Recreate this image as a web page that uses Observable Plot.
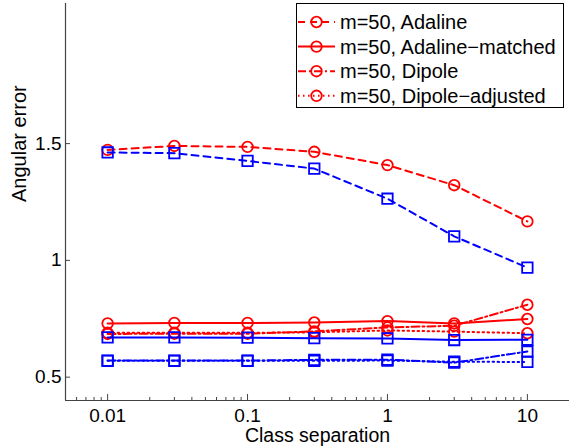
<!DOCTYPE html>
<html><head><meta charset="utf-8">
<script src="https://cdn.jsdelivr.net/npm/d3@7"></script>
<script src="https://cdn.jsdelivr.net/npm/@observablehq/plot@0.6"></script>
<style>
body{margin:0;background:#fff}
#chart{position:relative;width:569px;height:446px}
svg{font-family:"Liberation Sans",Arial,Helvetica,sans-serif}
</style>
</head><body><div id="chart"></div>
<script>
const separation = [0.01, 0.03, 0.1, 0.3, 1, 3, 10];
const redAdaline         = [1.473, 1.490, 1.486, 1.465, 1.408, 1.322, 1.167];
const redAdalineMatched  = [0.730, 0.732, 0.732, 0.734, 0.740, 0.730, 0.749];
const redDipole          = [0.685, 0.686, 0.686, 0.696, 0.713, 0.720, 0.810];
const redDipoleAdjusted  = [0.690, 0.690, 0.690, 0.692, 0.700, 0.695, 0.688];
const blueAdaline        = [1.462, 1.459, 1.426, 1.393, 1.264, 1.103, 0.969];
const blueAdalineMatched = [0.670, 0.670, 0.669, 0.667, 0.666, 0.659, 0.660];
const blueDipole         = [0.571, 0.571, 0.571, 0.574, 0.575, 0.562, 0.610];
const blueDipoleAdjusted = [0.570, 0.570, 0.570, 0.570, 0.571, 0.566, 0.565];
const legendLabels = ["m=50, Adaline", "m=50, Adaline\u2212matched", "m=50, Dipole", "m=50, Dipole\u2212adjusted"];
const xTicks = [0.01, 0.1, 1, 10];
const yTicks = [0.5, 1, 1.5];
const xLabel = "Class separation";
const yLabel = "Angular error";

const W = 569, H = 446, mL = 65, mR = 0, mT = 3, mB = 46;
const frameW = W - mL - mR, frameH = H - mT - mB;
const RED = "#ff0000", BLUE = "#0000ff";
const dashes = ["7,5", null, "8,3,2,3", "1.5,3.5"];
const FS = 19, FL = 19.5, FG = 20;

const xMinor = [];
for (let e = -3; e <= 1; e++) for (let k = 2; k <= 9; k++) {
  const v = k * Math.pow(10, e);
  if (v >= 0.005 && v <= 20) xMinor.push(v);
}

const series = [
  {color: RED, symbol: "circle", dash: dashes[0], values: redAdaline},
  {color: RED, symbol: "circle", dash: dashes[1], values: redAdalineMatched},
  {color: RED, symbol: "circle", dash: dashes[2], values: redDipole},
  {color: RED, symbol: "circle", dash: dashes[3], values: redDipoleAdjusted},
  {color: BLUE, symbol: "square", dash: dashes[0], values: blueAdaline},
  {color: BLUE, symbol: "square", dash: dashes[1], values: blueAdalineMatched},
  {color: BLUE, symbol: "square", dash: dashes[2], values: blueDipole},
  {color: BLUE, symbol: "square", dash: dashes[3], values: blueDipoleAdjusted}
];

const marks = [];
for (const s of series) {
  const rows = separation.map((x, i) => ({x, y: s.values[i]}));
  marks.push(Plot.line(rows, {x: "x", y: "y", stroke: s.color, strokeWidth: 2, strokeDasharray: s.dash}));
  marks.push(Plot.dot(rows, {x: "x", y: "y", stroke: s.color, fill: "none", strokeWidth: 1.8,
    symbol: s.symbol, r: s.symbol === "circle" ? 5.3 : 5.9}));
}

const chart = Plot.plot({
  width: W, height: H,
  marginLeft: mL, marginRight: mR, marginTop: mT, marginBottom: mB,
  style: {fontFamily: '"Liberation Sans",Arial,Helvetica,sans-serif', background: "#fff"},
  x: {type: "log", domain: [0.005, 20], axis: null},
  y: {domain: [0.4, 2.1], axis: null},
  marks: [
    Plot.ruleY([0.4], {stroke: "#444", strokeWidth: 1.2}),
    Plot.ruleX([0.005], {stroke: "#444", strokeWidth: 1.2}),
    Plot.tickX(xTicks, {x: d => d, insetTop: frameH - 6, stroke: "#444"}),
    Plot.tickX(xMinor, {x: d => d, insetTop: frameH - 3, stroke: "#444"}),
    Plot.tickY(yTicks, {y: d => d, insetRight: frameW - 5, stroke: "#444"}),
    Plot.text(xTicks, {x: d => d, text: d => String(d), frameAnchor: "bottom", dy: 15, lineAnchor: "middle", fontSize: FS, fill: "#000"}),
    Plot.text(yTicks, {y: d => d, text: d => String(d), frameAnchor: "left", dx: -4, textAnchor: "end", lineAnchor: "middle", fontSize: FS, fill: "#000"}),
    Plot.text([xLabel], {text: d => d, frameAnchor: "bottom", dy: 41.5, lineAnchor: "bottom", fontSize: FL, fill: "#000"}),
    Plot.text([yLabel], {text: d => d, frameAnchor: "left", dx: -40, rotate: -90, lineAnchor: "bottom", fontSize: FG, fill: "#000"}),
    ...marks
  ]
});

// legend
const svg = d3.select(chart);
const lg = svg.append("g").attr("text-anchor", "start");
lg.append("rect").attr("x", 296.5).attr("y", 3.5).attr("width", 267).attr("height", 104)
  .attr("fill", "#fff").attr("stroke", "#000").attr("stroke-width", 1);
legendLabels.forEach((lab, i) => {
  const cy = 22 + i * 24.6;
  lg.append("line").attr("x1", 298).attr("x2", 335).attr("y1", cy).attr("y2", cy)
    .attr("stroke", RED).attr("stroke-width", 2).attr("stroke-dasharray", dashes[i]);
  lg.append("circle").attr("cx", 316.5).attr("cy", cy).attr("r", 5.3)
    .attr("fill", "none").attr("stroke", RED).attr("stroke-width", 1.8);
  lg.append("text").attr("x", 340).attr("y", cy).attr("dy", "0.35em").attr("text-anchor", "start")
    .attr("font-size", FG).attr("fill", "#000").text(lab);
});

document.getElementById("chart").appendChild(chart);
</script>
</body></html>
